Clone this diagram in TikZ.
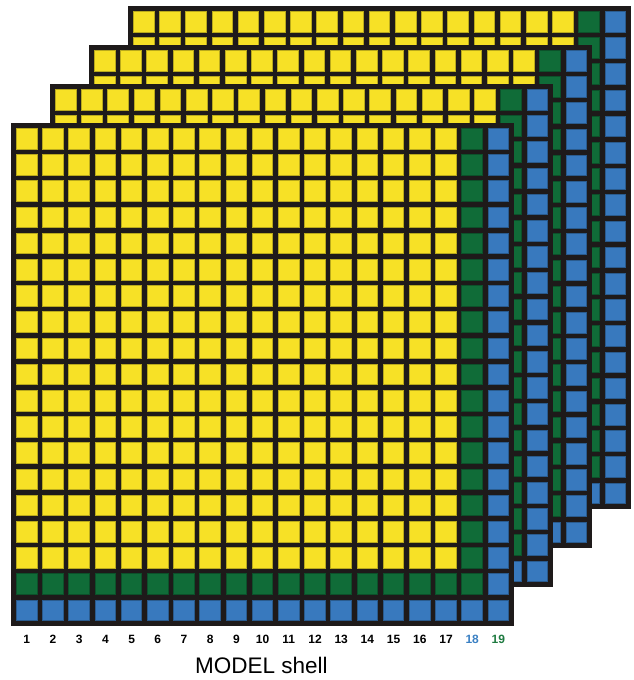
\documentclass[tikz,border=0pt]{standalone}
\usepackage{fontspec}
\setmainfont{Liberation Sans}
\definecolor{cyellow}{RGB}{247,225,38}
\definecolor{cgreen}{RGB}{16,108,56}
\definecolor{cblue}{RGB}{56,121,190}
\definecolor{gridblack}{RGB}{30,26,26}
\definecolor{lblue}{RGB}{58,128,195}
\definecolor{lgreen}{RGB}{30,122,64}
\tikzset{
  cellbox/.style={fill=#1, draw=#1!75!black, line width=0.5pt},
  numlabel/.style={font=\fontsize{12}{12}\selectfont\bfseries, anchor=base, inner sep=0pt},
  titlelabel/.style={font=\fontsize{22.5}{22.5}\selectfont, anchor=base, inner sep=0pt}
}
\begin{document}
\begin{tikzpicture}[x=1pt,y=-1pt]
\useasboundingbox (0,0) rectangle (633,680);
\foreach \k in {3,2,1,0}{
  \pgfmathsetmacro\ox{11+39*\k}
  \pgfmathsetmacro\oy{123-39*\k}
  \fill[gridblack] (\ox,\oy) rectangle ++(502.8,502.8);
  \foreach \i in {1,...,19}{
    \foreach \j in {1,...,19}{
      \ifnum\i=19 \def\cc{cblue}\else
      \ifnum\j=19 \def\cc{cblue}\else
      \ifnum\i=18 \def\cc{cgreen}\else
      \ifnum\j=18 \def\cc{cgreen}\else
      \def\cc{cyellow}\fi\fi\fi\fi
      \filldraw[cellbox=\cc] ({\ox+5.3+(\j-1)*26.2},{\oy+5.3+(\i-1)*26.2}) rectangle ++(20.6,20.6);
    }
  }
}
\foreach \j in {1,...,17}{
  \node[numlabel] (n\j) at ({26.8+(\j-1)*26.2},643) {\j};
}
\node[numlabel, text=lblue] (n18) at ({26.8+17*26.2},643) {18};
\node[numlabel, text=lgreen] (n19) at ({26.8+18*26.2},643) {19};
\node[titlelabel] (title) at (261.5,673) {MODEL shell};
\end{tikzpicture}
\end{document}
